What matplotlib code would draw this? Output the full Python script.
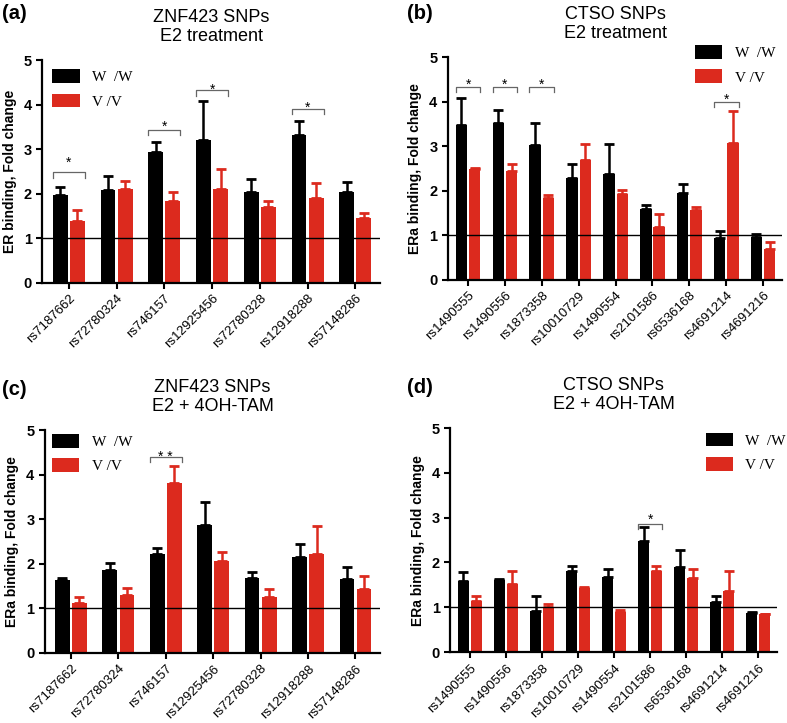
import numpy as np
import matplotlib.pyplot as plt
from matplotlib.patches import Patch

plt.rcParams['font.family'] = ['Liberation Sans', 'DejaVu Sans']

BLACK = '#000000'
RED = '#dc2a1e'

# ---- data ----
znf_snps = ['rs7187662', 'rs72780324', 'rs746157', 'rs12925456',
            'rs72780328', 'rs12918288', 'rs57148286']
ctso_snps = ['rs1490555', 'rs1490556', 'rs1873358', 'rs10010729', 'rs1490554',
             'rs2101586', 'rs6536168', 'rs4691214', 'rs4691216']

# (a) ZNF423, E2
a_ww = [1.96, 2.09, 2.93, 3.20, 2.04, 3.31, 2.03]
a_ww_err = [0.19, 0.30, 0.24, 0.88, 0.29, 0.32, 0.23]
a_vv = [1.38, 2.11, 1.84, 2.11, 1.69, 1.90, 1.45]
a_vv_err = [0.25, 0.18, 0.20, 0.44, 0.14, 0.33, 0.12]
# (snp index, bracket height, star height, label)
a_sig = [(0, 2.48, 2.78, '*'), (2, 3.43, 3.60, '*'),
         (3, 4.32, 4.42, '*'), (5, 3.91, 4.01, '*')]

# (b) CTSO, E2
b_ww = [3.48, 3.52, 3.02, 2.29, 2.37, 1.60, 1.96, 0.94, 0.97]
b_ww_err = [0.60, 0.30, 0.51, 0.31, 0.68, 0.07, 0.20, 0.15, 0.06]
b_vv = [2.48, 2.44, 1.84, 2.69, 1.92, 1.18, 1.56, 3.07, 0.70]
b_vv_err = [0.04, 0.16, 0.06, 0.36, 0.10, 0.29, 0.08, 0.73, 0.14]
b_sig = [(0, 4.33, 4.47, '*'), (1, 4.33, 4.47, '*'),
         (2, 4.34, 4.47, '*'), (7, 4.0, 4.13, '*')]

# (c) ZNF423, E2 + 4OH-TAM
c_ww = [1.63, 1.86, 2.22, 2.87, 1.68, 2.16, 1.66]
c_ww_err = [0.06, 0.15, 0.13, 0.52, 0.13, 0.28, 0.27]
c_vv = [1.13, 1.29, 3.81, 2.07, 1.25, 2.23, 1.44]
c_vv_err = [0.13, 0.17, 0.38, 0.20, 0.18, 0.61, 0.29]
c_sig = [(2, 4.40, 4.48, '* *')]

# (d) CTSO, E2 + 4OH-TAM
d_ww = [1.59, 1.60, 0.91, 1.82, 1.67, 2.47, 1.91, 1.12, 0.87]
d_ww_err = [0.20, 0.03, 0.34, 0.10, 0.18, 0.32, 0.37, 0.14, 0.03]
d_vv = [1.14, 1.53, 1.00, 1.43, 0.89, 1.82, 1.66, 1.37, 0.86]
d_vv_err = [0.11, 0.29, 0.08, 0.03, 0.06, 0.10, 0.19, 0.45, 0.0]
d_sig = [(5, 2.86, 3.05, '*')]


def draw_panel(fig, rect, letter, letter_xy, title, ylabel, snps, ww, ww_err,
               vv, vv_err, sig, legend_loc, legend_anchor):
    ax = fig.add_axes(rect)
    x = np.arange(len(snps))
    w = 0.31
    off = 0.18
    ax.bar(x - off, ww, w, color=BLACK, zorder=2)
    ax.bar(x + off, vv, w, color=RED, zorder=2)
    ax.errorbar(x - off, ww, yerr=[np.zeros(len(ww)), ww_err], fmt='none',
                ecolor=BLACK, elinewidth=1.8, capsize=3.5, capthick=2, zorder=3)
    ax.errorbar(x + off, vv, yerr=[np.zeros(len(vv)), vv_err], fmt='none',
                ecolor=RED, elinewidth=1.8, capsize=3.5, capthick=2, zorder=3)
    ax.axhline(1, color='black', lw=1, zorder=4)

    # significance brackets
    for i, h, hs, lab in sig:
        x0, x1 = i - off - w / 2, i + off + w / 2
        ax.plot([x0, x0, x1, x1], [h - 0.12, h, h, h - 0.12], color='#666666', lw=0.9)
        ax.text(i, hs - 0.09, lab, ha='center', va='center', fontsize=10)

    ax.set_xlim(-0.55, len(snps) - 1 + 0.52)
    ax.set_ylim(0, 5)
    ax.set_yticks(range(6))
    ax.set_xticks(x)
    ax.set_xticklabels(snps, rotation=45, ha='right', rotation_mode='anchor',
                       fontsize=9.5)
    for t in ax.get_yticklabels():
        t.set_fontweight('bold')
        t.set_fontsize(10.5)
    ax.tick_params(axis='both', width=1.5, length=4, direction='out')
    ax.tick_params(axis='x', pad=3)
    for s in ['top', 'right']:
        ax.spines[s].set_visible(False)
    for s in ['left', 'bottom']:
        ax.spines[s].set_linewidth(1.6)
    ax.set_ylabel(ylabel, fontsize=10, fontweight='bold', labelpad=5)
    ax.set_title(title, fontsize=13, pad=14, linespacing=1.15)

    handles = [Patch(facecolor=BLACK), Patch(facecolor=RED)]
    ax.legend(handles, ['W  /W', 'V /V'], loc=legend_loc, bbox_to_anchor=legend_anchor,
              frameon=False, prop={'family': 'Liberation Serif', 'size': 11},
              handlelength=1.8, handleheight=1.0, labelspacing=0.6,
              handletextpad=0.8)
    fig.text(letter_xy[0], letter_xy[1], letter, fontsize=14.5,
             fontweight='bold', ha='left', va='top')
    return ax


fig = plt.figure(figsize=(7.87, 7.23), dpi=100)

draw_panel(fig, [0.054, 0.609, 0.429, 0.308], '(a)', (0.002, 0.995),
           'ZNF423 SNPs\nE2 treatment', 'ER binding, Fold change', znf_snps,
           a_ww, a_ww_err, a_vv, a_vv_err, a_sig, 'upper left', (-0.012, 1.02))
draw_panel(fig, [0.569, 0.613, 0.425, 0.308], '(b)', (0.517, 0.995),
           'CTSO SNPs\nE2 treatment', 'ERa binding, Fold change', ctso_snps,
           b_ww, b_ww_err, b_vv, b_vv_err, b_sig, 'upper right', (1.02, 1.115))
draw_panel(fig, [0.057, 0.097, 0.426, 0.308], '(c)', (0.002, 0.475),
           'ZNF423 SNPs\nE2 + 4OH-TAM', 'ERa binding, Fold change', znf_snps,
           c_ww, c_ww_err, c_vv, c_vv_err, c_sig, 'upper left', (-0.02, 1.045))
draw_panel(fig, [0.572, 0.098, 0.415, 0.310], '(d)', (0.517, 0.477),
           'CTSO SNPs\nE2 + 4OH-TAM', 'ERa binding, Fold change', ctso_snps,
           d_ww, d_ww_err, d_vv, d_vv_err, d_sig, 'upper right', (1.07, 1.04))

fig.savefig('out.png', dpi=100)
